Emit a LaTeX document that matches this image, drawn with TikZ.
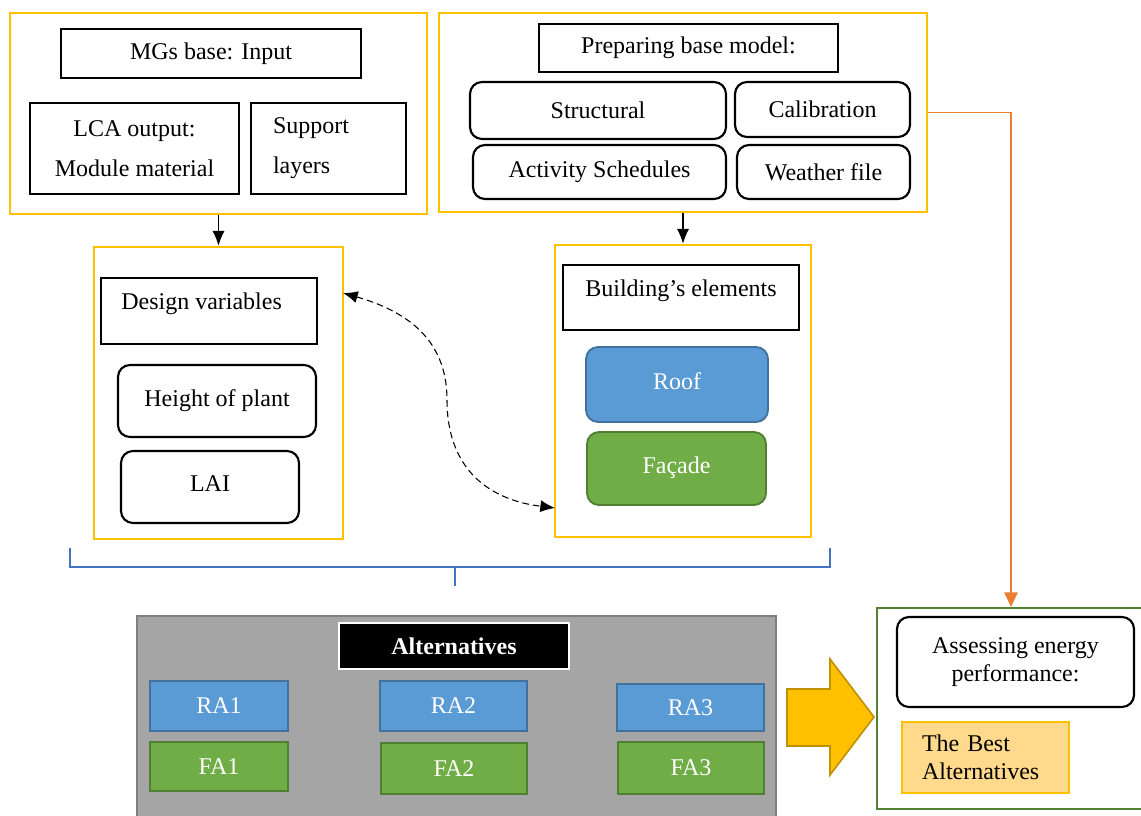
\documentclass[tikz,border=0pt]{standalone}
\usepackage{fontspec}
\setmainfont{Liberation Serif}
\usetikzlibrary{arrows.meta}
\definecolor{ylw}{HTML}{FFC000}
\definecolor{ylwdk}{HTML}{BF9000}
\definecolor{bluef}{HTML}{5B9BD5}
\definecolor{blued}{HTML}{41719C}
\definecolor{greenf}{HTML}{70AD47}
\definecolor{greend}{HTML}{507E32}
\definecolor{grayf}{HTML}{A5A5A5}
\definecolor{grayd}{HTML}{7F7F7F}
\definecolor{brace}{HTML}{4472C4}
\definecolor{orng}{HTML}{ED7D31}
\definecolor{grnbox}{HTML}{548235}
\definecolor{bestf}{HTML}{FFD98C}
\tikzset{
  sz/.style 2 args={minimum width=#1*0.75pt, minimum height=#2*0.75pt},
  every node/.style={inner sep=0pt, font=\fontsize{18}{21}\selectfont},
  outerbox/.style={draw=ylw, line width=2pt},
  thinbox/.style={draw=black, line width=0.8pt},
  thickbox/.style={draw=black, line width=1.6pt},
  rbox/.style={draw=black, line width=1.6pt, rounded corners=9pt},
  bluebox/.style={draw=blued, fill=bluef, line width=1.4pt, text=white},
  greenbox/.style={draw=greend, fill=greenf, line width=1.4pt, text=white},
  mytip/.tip={Latex[length=11pt,width=9pt]},
  arr/.style={-mytip, line width=0.8pt},
}
\begin{document}
\begin{tikzpicture}[x=0.75pt,y=-0.75pt]
\useasboundingbox (0,0) rectangle (1141,816);
% top-left group
\node[outerbox, sz={417}{201}] (b1) at (218.5,113.5) {};
\node[thinbox, sz={300}{49}] (mg) at (211,53.5) {\raisebox{-2\dimexpr0.75pt\relax}{MGs base: Input}};
\node[thickbox, sz={209}{91}, align=center, font=\fontsize{18}{30}\selectfont] (lca) at (134.5,148.5) {LCA output:\\Module material};
\node[thickbox, sz={155}{91}, align=left, text width=111*0.75pt, font=\fontsize{18}{30}\selectfont] (sup) at (328.5,148.5) {Support\\layers};
% top-right group
\node[outerbox, sz={488}{199}] (b2) at (683,112.5) {};
\node[thinbox, sz={299}{48}] (prep) at (688.5,48) {Preparing base model:};
\node[rbox, sz={256}{57}] (str) at (598,110.5) {Structural};
\node[rbox, sz={175}{55}] (cal) at (822.5,109.5) {Calibration};
\node[rbox, sz={253}{54}] (act) at (599.5,172) {\raisebox{-2\dimexpr0.75pt\relax}{Activity Schedules}};
\node[rbox, sz={173}{54}] (wea) at (823.5,172) {Weather file};
% middle-left group
\node[outerbox, sz={249}{292}] (b3) at (218.5,393) {};
\node[thinbox, sz={216}{66}] (dv) at (209,311) {};
\node[anchor=west] (dvt) at (121,304) {Design variables};
\node[rbox, sz={198}{72}] (hp) at (217,401) {\raisebox{6\dimexpr0.75pt\relax}{Height of plant}};
\node[rbox, sz={178}{72}] (lai) at (210,487) {\raisebox{6\dimexpr0.75pt\relax}{LAI}};
% middle-right group
\node[outerbox, sz={256}{292}] (b4) at (683,391) {};
\node[thinbox, sz={236}{65}] (be) at (681,297.5) {};
\node (bet) at (681,291) {Building’s elements};
\node[bluebox, rounded corners=9pt, sz={182}{75}] (roof) at (677,384.5) {\raisebox{6\dimexpr0.75pt\relax}{Roof}};
\node[greenbox, rounded corners=9pt, sz={179}{73}] (fac) at (676.5,468.5) {\raisebox{6\dimexpr0.75pt\relax}{Façade}};
% arrows
\draw[arr] (b1.south) -- (b3.north);
\draw[arr] (b2.south) -- (b4.north);
\coordinate (d1) at (343,293);
\coordinate (d2) at (555,508);
\draw[mytip-mytip, dash pattern=on 5pt off 3pt, line width=0.8pt]
  (d1) .. controls (420,315) and (447,350) .. (447,400)
       .. controls (447,470) and (490,500) .. (d2);
% brace
\draw[brace, line width=1.6pt] (70,548) -- (70,567) -- (830,567) -- (830,548);
\draw[brace, line width=1.6pt] (455,567) -- (455,586);
% alternatives
\node[draw=grayd, fill=grayf, line width=1.5pt, sz={639}{212}] (gray) at (456.5,722) {};
\node[draw=white, fill=black, line width=1.8pt, sz={230}{46}, text=white, font=\fontsize{18}{21}\selectfont\bfseries] (alt) at (454,646) {\raisebox{-2\dimexpr0.75pt\relax}{Alternatives}};
\node[bluebox, sz={138}{50}] (ra1) at (219,706) {RA1};
\node[greenbox, sz={138}{49}] (fa1) at (219,766.5) {FA1};
\node[bluebox, sz={147}{50}] (ra2) at (453.5,706) {RA2};
\node[greenbox, sz={146}{51}] (fa2) at (454,768.5) {FA2};
\node[bluebox, sz={147}{47}] (ra3) at (690.5,707.5) {RA3};
\node[greenbox, sz={146}{52}] (fa3) at (691,768) {FA3};
% big arrow
\draw[fill=ylw, draw=ylwdk, line width=1.2pt]
  (787,689) -- (830,689) -- (830,659) -- (874,717) -- (830,775) -- (830,746) -- (787,746) -- cycle;
% assessing
\node[draw=grnbox, line width=1.5pt, sz={268}{201}] (grn) at (1011,708.5) {};
\node[rbox, sz={237}{90}, align=center, font=\fontsize{18}{21}\selectfont] (ass) at (1015.5,662) {Assessing energy\\performance:};
\node[draw=ylw, fill=bestf, line width=0.8pt, sz={167}{71}, align=left, text width=127*0.75pt] (best) at (985.5,757.5) {The Best\\Alternatives};
% orange connector
\draw[orng, line width=1.4pt, -{Triangle[length=11pt,width=10pt]}] (b2.east) -| (grn.north);
\end{tikzpicture}
\end{document}
